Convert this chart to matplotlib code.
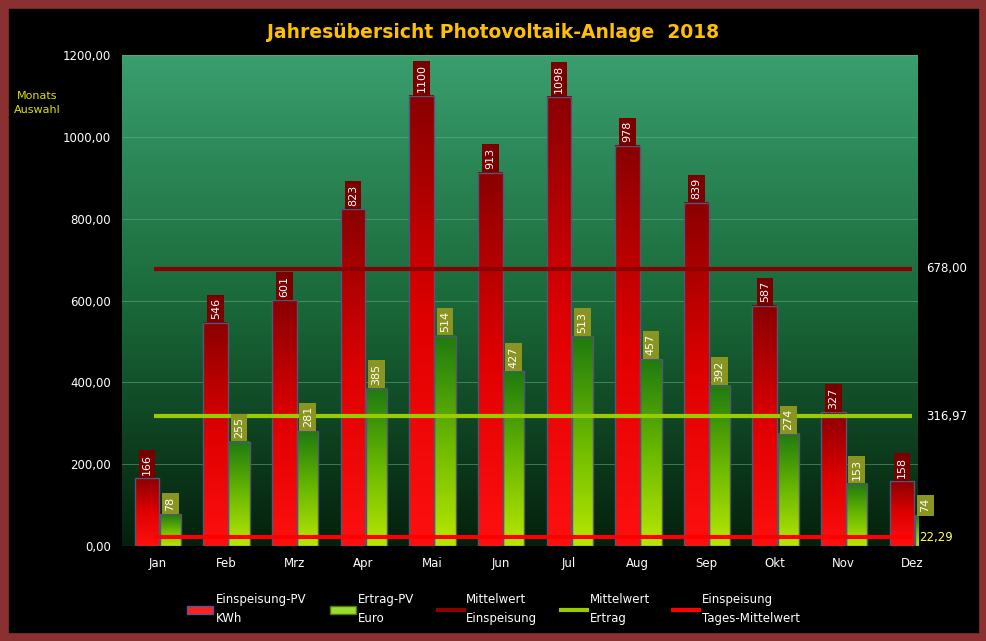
import numpy as np
import matplotlib.pyplot as plt
from matplotlib.colors import LinearSegmentedColormap
from matplotlib.patches import Rectangle
from matplotlib.lines import Line2D

months = ["Jan", "Feb", "Mrz", "Apr", "Mai", "Jun", "Jul", "Aug", "Sep", "Okt", "Nov", "Dez"]
einspeisung = [166, 546, 601, 823, 1100, 913, 1098, 978, 839, 587, 327, 158]
ertrag = [78, 255, 281, 385, 514, 427, 513, 457, 392, 274, 153, 74]
mittel_einspeisung = 678.00
mittel_ertrag = 316.97
tages_mittel = 22.29

red_cm = LinearSegmentedColormap.from_list("r", ["#ff1010", "#e00000", "#8a0000"])
green_cm = LinearSegmentedColormap.from_list("g", ["#b8e800", "#6ab800", "#1f7a10"])
bg_cm = LinearSegmentedColormap.from_list("bg", ["#04200c", "#1a6a3a", "#3a9e6e"])

fig = plt.figure(figsize=(9.87, 6.41), dpi=100, facecolor="black")
fig.patches.append(Rectangle((0, 0), 1, 1, transform=fig.transFigure, fill=False,
                             edgecolor="#8b3030", linewidth=12))
ax = fig.add_axes([0.124, 0.148, 0.806, 0.766])
ax.set_facecolor("black")
ax.set_xlim(-0.51, 11.08)
ax.set_ylim(0, 1200)
ax.imshow(np.linspace(0, 1, 256).reshape(-1, 1), extent=[-0.51, 11.08, 0, 1200],
          origin="lower", aspect="auto", cmap=bg_cm, zorder=0)
for y in range(200, 1201, 200):
    ax.axhline(y, color="#6fb08a", linewidth=0.6, alpha=0.6, zorder=1)

grad = np.linspace(0, 1, 256).reshape(-1, 1)
for i in range(len(months)):
    for val, off, w, cm, box in [(einspeisung[i], -0.15, 0.36, red_cm, "#7a0000"),
                                 (ertrag[i], 0.19, 0.31, green_cm, "#8a9420")]:
        x0 = i + off - w / 2
        ax.imshow(grad, extent=[x0, x0 + w, 0, val], origin="lower", aspect="auto",
                  cmap=cm, zorder=2)
        ax.add_patch(Rectangle((x0, 0), w, val, fill=False, edgecolor="#555577",
                               linewidth=1, zorder=3))
        ax.text(i + off, val + 9, str(val), rotation=90, ha="center", va="bottom",
                color="white", fontsize=8, zorder=5,
                bbox=dict(boxstyle="square,pad=0.3", fc=box, ec="none"))

ax.hlines(mittel_einspeisung, -0.05, 11.0, color="#8b0000", linewidth=3, zorder=4)
ax.hlines(mittel_ertrag, -0.05, 11.0, color="#99cc00", linewidth=3, zorder=4)
ax.hlines(tages_mittel, -0.05, 11.0, color="#ff0000", linewidth=3, zorder=4)
ax.text(11.2, mittel_einspeisung, "678,00", color="white", fontsize=8.5, va="center", clip_on=False)
ax.text(11.2, mittel_ertrag, "316,97", color="white", fontsize=8.5, va="center", clip_on=False)
ax.text(11.1, tages_mittel, "22,29", color="#ffff60", fontsize=8.5, va="center", clip_on=False)

ax.set_xticks(range(len(months)))
ax.set_xticklabels(months, color="white", fontsize=8.5)
ax.set_yticks(range(0, 1201, 200))
ax.set_yticklabels(["%d,00" % v for v in range(0, 1201, 200)], color="white", fontsize=8.5)
ax.tick_params(length=0, pad=8)
for s in ax.spines.values():
    s.set_visible(False)

fig.text(0.5, 0.95, "Jahresübersicht Photovoltaik-Anlage  2018", ha="center", va="center",
         color="#ffc000", fontsize=13.5, fontweight="bold")
fig.text(0.038, 0.84, "Monats\nAuswahl", ha="center", va="center", color="#e0e000",
         fontsize=8, linespacing=1.5)

handles = [Rectangle((0, 0), 1, 1, fc="#ff2020", ec="#555599"),
           Rectangle((0, 0), 1, 1, fc="#99dd33", ec="#557700"),
           Line2D([], [], color="#8b0000", lw=3),
           Line2D([], [], color="#99cc00", lw=3),
           Line2D([], [], color="#ff0000", lw=3)]
labels = ["Einspeisung-PV\nKWh", "Ertrag-PV\nEuro", "Mittelwert\nEinspeisung",
          "Mittelwert\nErtrag", "Einspeisung\nTages-Mittelwert"]
leg = fig.legend(handles, labels, loc="center", bbox_to_anchor=(0.5, 0.05), ncol=5,
                 frameon=False, fontsize=8.5, handlelength=2.2, handletextpad=0.2,
                 columnspacing=2.0)
for t in leg.get_texts():
    t.set_color("white")
    t.set_linespacing(1.6)

fig.savefig("out.png", dpi=100, facecolor="black")
